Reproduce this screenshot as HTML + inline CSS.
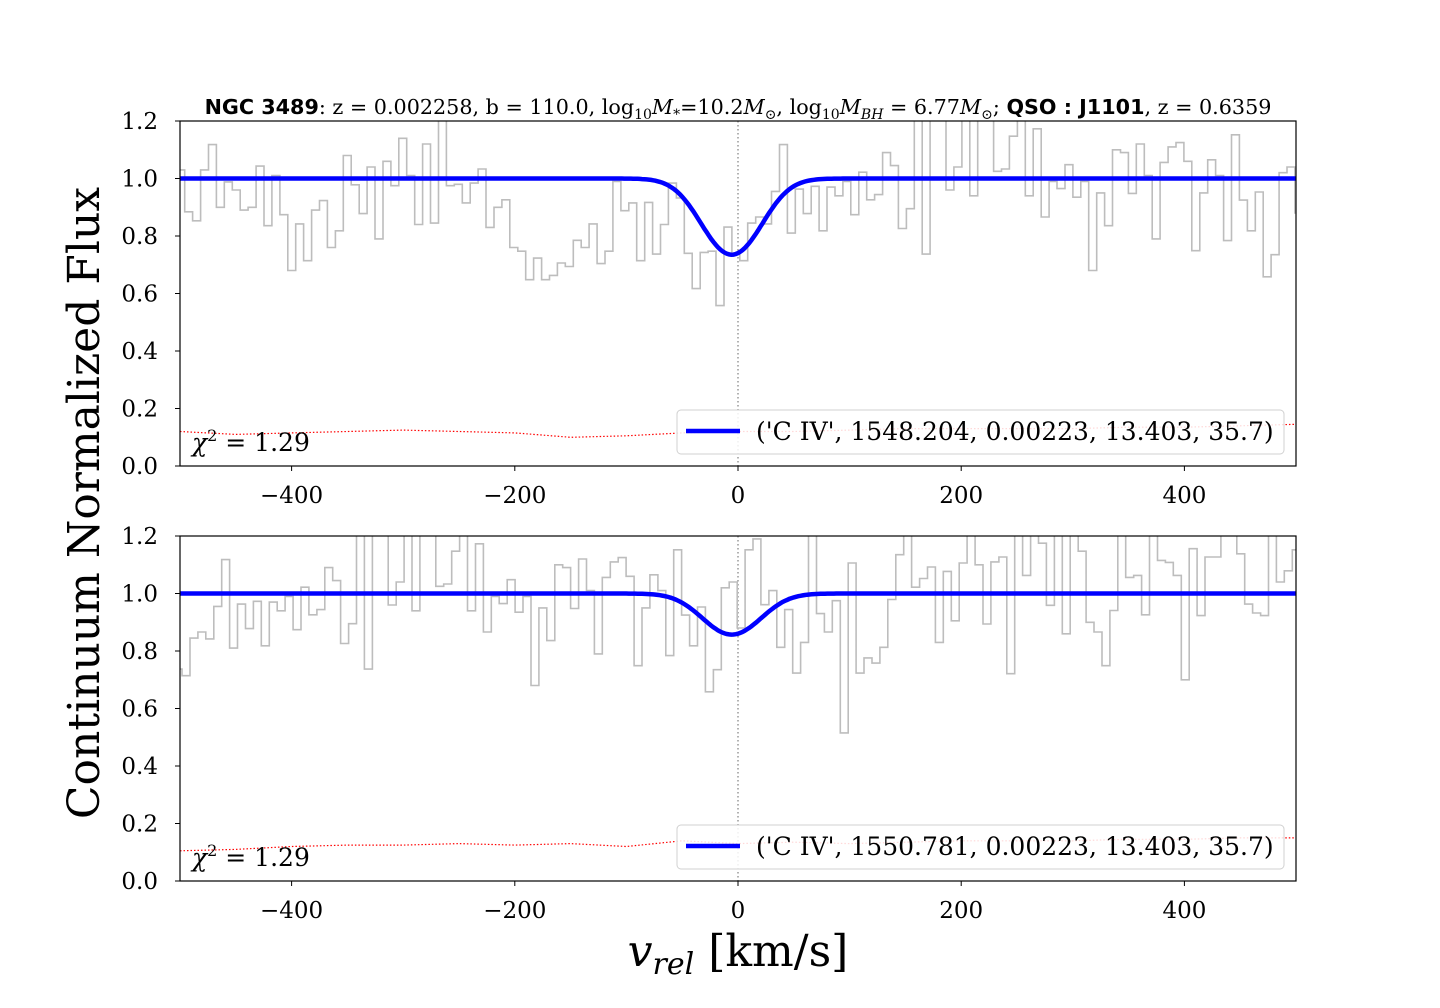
<!DOCTYPE html>
<html><head><meta charset="utf-8">
<style>
html,body{margin:0;padding:0;background:#fff;}
svg{display:block;}
text{font-family:"DejaVu Serif","Liberation Serif",serif;fill:#000;}
.sans{font-family:"DejaVu Sans","Liberation Sans",sans-serif;font-weight:bold;}
</style></head>
<body>
<svg id="chart" width="1440" height="1008" viewBox="0 0 1440 1008" xmlns="http://www.w3.org/2000/svg">
<defs>
<clipPath id="clipTop"><rect x="180" y="121" width="1116" height="345"/></clipPath>
<clipPath id="clipBot"><rect x="180" y="536" width="1116" height="345"/></clipPath>
</defs>
<text x="738" y="114" text-anchor="middle" font-size="20.7"><tspan class="sans">NGC 3489</tspan>: z = 0.002258, b = 110.0, log<tspan font-size="14" dy="5">10</tspan><tspan dy="-5" font-style="italic">M</tspan><tspan font-size="14" dy="5">*</tspan><tspan dy="-5">=10.2</tspan><tspan font-style="italic">M</tspan><tspan font-size="14" dy="5">⊙</tspan><tspan dy="-5">, log</tspan><tspan font-size="14" dy="5">10</tspan><tspan dy="-5" font-style="italic">M</tspan><tspan font-size="14" dy="5" font-style="italic">BH</tspan><tspan dy="-5"> = 6.77</tspan><tspan font-style="italic">M</tspan><tspan font-size="14" dy="5">⊙</tspan><tspan dy="-5">; </tspan><tspan class="sans">QSO : J1101</tspan>, z = 0.6359</text>
<text x="0" y="0" font-size="44" text-anchor="middle" transform="translate(99,503) rotate(-90)">Continuum Normalized Flux</text>
<text x="738" y="966" font-size="44" text-anchor="middle"><tspan font-style="italic">v</tspan><tspan font-style="italic" font-size="30" dy="8">rel</tspan><tspan dy="-8"> [km/s]</tspan></text>
<g id="panels"></g>
</svg>
<script>
// spectrum: flux per bin, bin left-edge velocity = V_START + i*BIN_W (top panel frame)
const flux = [
1.03,0.884,0.853,1.03,1.118,0.90,0.988,0.96,0.89,0.90,1.043,0.836,1.01,0.874,0.68,0.842,0.714,0.89,0.923,0.76,0.818,1.08,0.978,0.878,1.04,0.79,1.06,0.975,1.14,1.01,0.84,1.12,0.845,1.3,0.975,0.98,0.915,
0.984,1.033,0.83,0.90,0.926,0.76,0.747,0.648,0.723,0.648,0.663,0.706,0.694,0.785,0.76,0.842,0.704,0.747,0.99,0.888,0.915,0.714,0.917,0.737,0.84,0.984,0.932,0.74,0.617,0.743,0.747,0.558,0.831,0.737,0.714,0.845,
0.866,0.842,0.955,1.118,0.81,0.963,0.878,0.973,0.818,0.97,0.94,0.99,0.874,1.022,0.926,0.944,1.09,1.045,0.826,0.895,1.3,0.737,1.3,1.3,0.96,1.04,1.3,0.94,1.3,1.3,1.025,1.033,1.147,1.3,0.94,
1.173,0.866,0.99,0.965,1.048,0.935,0.99,0.68,0.95,0.836,1.1,1.09,0.948,1.12,1.01,0.79,1.056,1.11,1.125,1.06,0.749,0.95,1.065,1.01,0.784,1.152,0.925,0.818,0.953,0.658,0.735,1.02,1.04,0.88,
1.152,1.19,0.961,1.01,0.813,0.944,0.723,0.83,1.3,0.93,0.866,0.975,0.515,1.106,0.723,0.776,0.758,0.813,0.979,1.135,1.3,1.022,1.052,1.092,0.83,1.077,0.905,1.106,1.3,1.1,0.894,1.11,1.127,0.721,1.3,1.063,
1.3,1.175,0.959,1.3,0.86,1.3,1.147,0.9,0.866,0.749,0.941,1.3,1.056,1.063,0.926,1.3,1.115,1.108,1.063,0.7,1.156,0.923,1.127,1.127,1.3,1.3,1.138,0.963,0.932,0.923,1.3,1.04,1.079,1.152
];
const V_START = -502.9;
const BIN_W = 7.106;
const panelOffsets = [0, 499.8];
const errVel = [-500,-450,-400,-350,-300,-250,-200,-150,-100,-50,0,50,100,150,200,250,300,350,400,450,500];
const errTop = [0.12,0.11,0.115,0.12,0.125,0.12,0.115,0.10,0.105,0.115,0.12,0.12,0.125,0.13,0.13,0.13,0.13,0.135,0.135,0.14,0.145];
const errBot = [0.105,0.11,0.12,0.125,0.125,0.13,0.125,0.13,0.12,0.14,0.13,0.135,0.13,0.135,0.14,0.14,0.14,0.145,0.145,0.15,0.15];
const fitCenter = [-5.6, -5.6];
const fitDepth = [0.735, 0.857];
const fitB = 35.7;
const legendLabels = ["('C IV', 1548.204, 0.00223, 13.403, 35.7)", "('C IV', 1550.781, 0.00223, 13.403, 35.7)"];
const chiLabel = "1.29";
const xTicks = [-400,-200,0,200,400];
const yTicks = [0.0,0.2,0.4,0.6,0.8,1.0,1.2];

const NS="http://www.w3.org/2000/svg";
const root=document.getElementById('panels');
function mk(tag,attrs,parent){const e=document.createElementNS(NS,tag);for(const k in attrs)e.setAttribute(k,attrs[k]);(parent||root).appendChild(e);return e;}
const X0=180,X1=1296;
function xs(v){return X0+(v+500)/1000*(X1-X0);}
const panelTops=[121,536];
const PH=345;

panelTops.forEach((top,p)=>{
  const ys=f=>top+PH-f/1.2*PH;
  const g=mk('g',{});
  
  
  const clip=mk('g',{'clip-path':p===0?'url(#clipTop)':'url(#clipBot)'},g);
  const zl=mk('line',{x1:xs(0),x2:xs(0),y1:top,y2:top+PH,stroke:'#888','stroke-width':1.3,'stroke-dasharray':'1.5,2.5'},clip);
  
  
  let d='';
  flux.forEach((f,i)=>{
    const v0=V_START+i*BIN_W-panelOffsets[p], v1=v0+BIN_W;
    const y=ys(f);
    d+=(i===0?'M':'L')+xs(v0).toFixed(1)+','+y.toFixed(1)+' L'+xs(v1).toFixed(1)+','+y.toFixed(1)+' ';
  });
  const sp=mk('path',{d:d,fill:'none',stroke:'#bdbdbd','stroke-width':1.6},clip);
  
  
  const err=p===0?errTop:errBot;
  let de='';
  errVel.forEach((v,i)=>{de+=(i?'L':'M')+xs(v).toFixed(1)+','+ys(err[i]).toFixed(1)+' ';});
  const ep=mk('path',{d:de,fill:'none',stroke:'red','stroke-width':1.2,'stroke-dasharray':'1.5,2'},clip);
  
  
  const tau0=-Math.log(fitDepth[p]);
  let df='';
  for(let v=-500;v<=500;v+=2){
    const f=Math.exp(-tau0*Math.exp(-Math.pow((v-fitCenter[p])/fitB,2)));
    df+=(v===-500?'M':'L')+xs(v).toFixed(1)+','+ys(f).toFixed(1)+' ';
  }
  const fp=mk('path',{d:df,fill:'none',stroke:'#0000ff','stroke-width':4.5},clip);
  
  
  const fr=mk('rect',{x:X0,y:top,width:X1-X0,height:PH,fill:'none',stroke:'#000','stroke-width':1.2},g);
  
  
  xTicks.forEach(t=>{
    mk('line',{x1:xs(t),x2:xs(t),y1:top+PH,y2:top+PH+5,stroke:'#000','stroke-width':1},g);
    const tx=mk('text',{x:xs(t),y:top+PH+37,'font-size':23,'text-anchor':'middle'},g);
    tx.textContent=(t<0?'\u2212'+(-t):String(t));
    
    
  });
  yTicks.forEach(t=>{
    mk('line',{x1:X0-5,x2:X0,y1:ys(t),y2:ys(t),stroke:'#000','stroke-width':1},g);
    const tx=mk('text',{x:X0-22,y:ys(t)+8,'font-size':23,'text-anchor':'end'},g);
    tx.textContent=t.toFixed(1);
    
    
  });
  const ch=mk('text',{x:192,y:top+PH-15,'font-size':25},g);
  ch.innerHTML='<tspan font-style="italic">χ</tspan><tspan font-size="16" dy="-10">2</tspan><tspan dy="10"> = '+chiLabel+'</tspan>';
  
  
  const lg=mk('g',{},g);
  
  
  mk('rect',{x:677,y:top+289,width:607,height:44,rx:4,fill:'#fff','fill-opacity':0.85,stroke:'#d0d0d0','stroke-width':1},lg);
  mk('line',{x1:686,x2:740,y1:top+310,y2:top+310,stroke:'#0000ff','stroke-width':4.5},lg);
  const lt=mk('text',{x:756,y:top+319,'font-size':25},lg);
  lt.textContent=legendLabels[p];
  
  
});
</script>
</body></html>
